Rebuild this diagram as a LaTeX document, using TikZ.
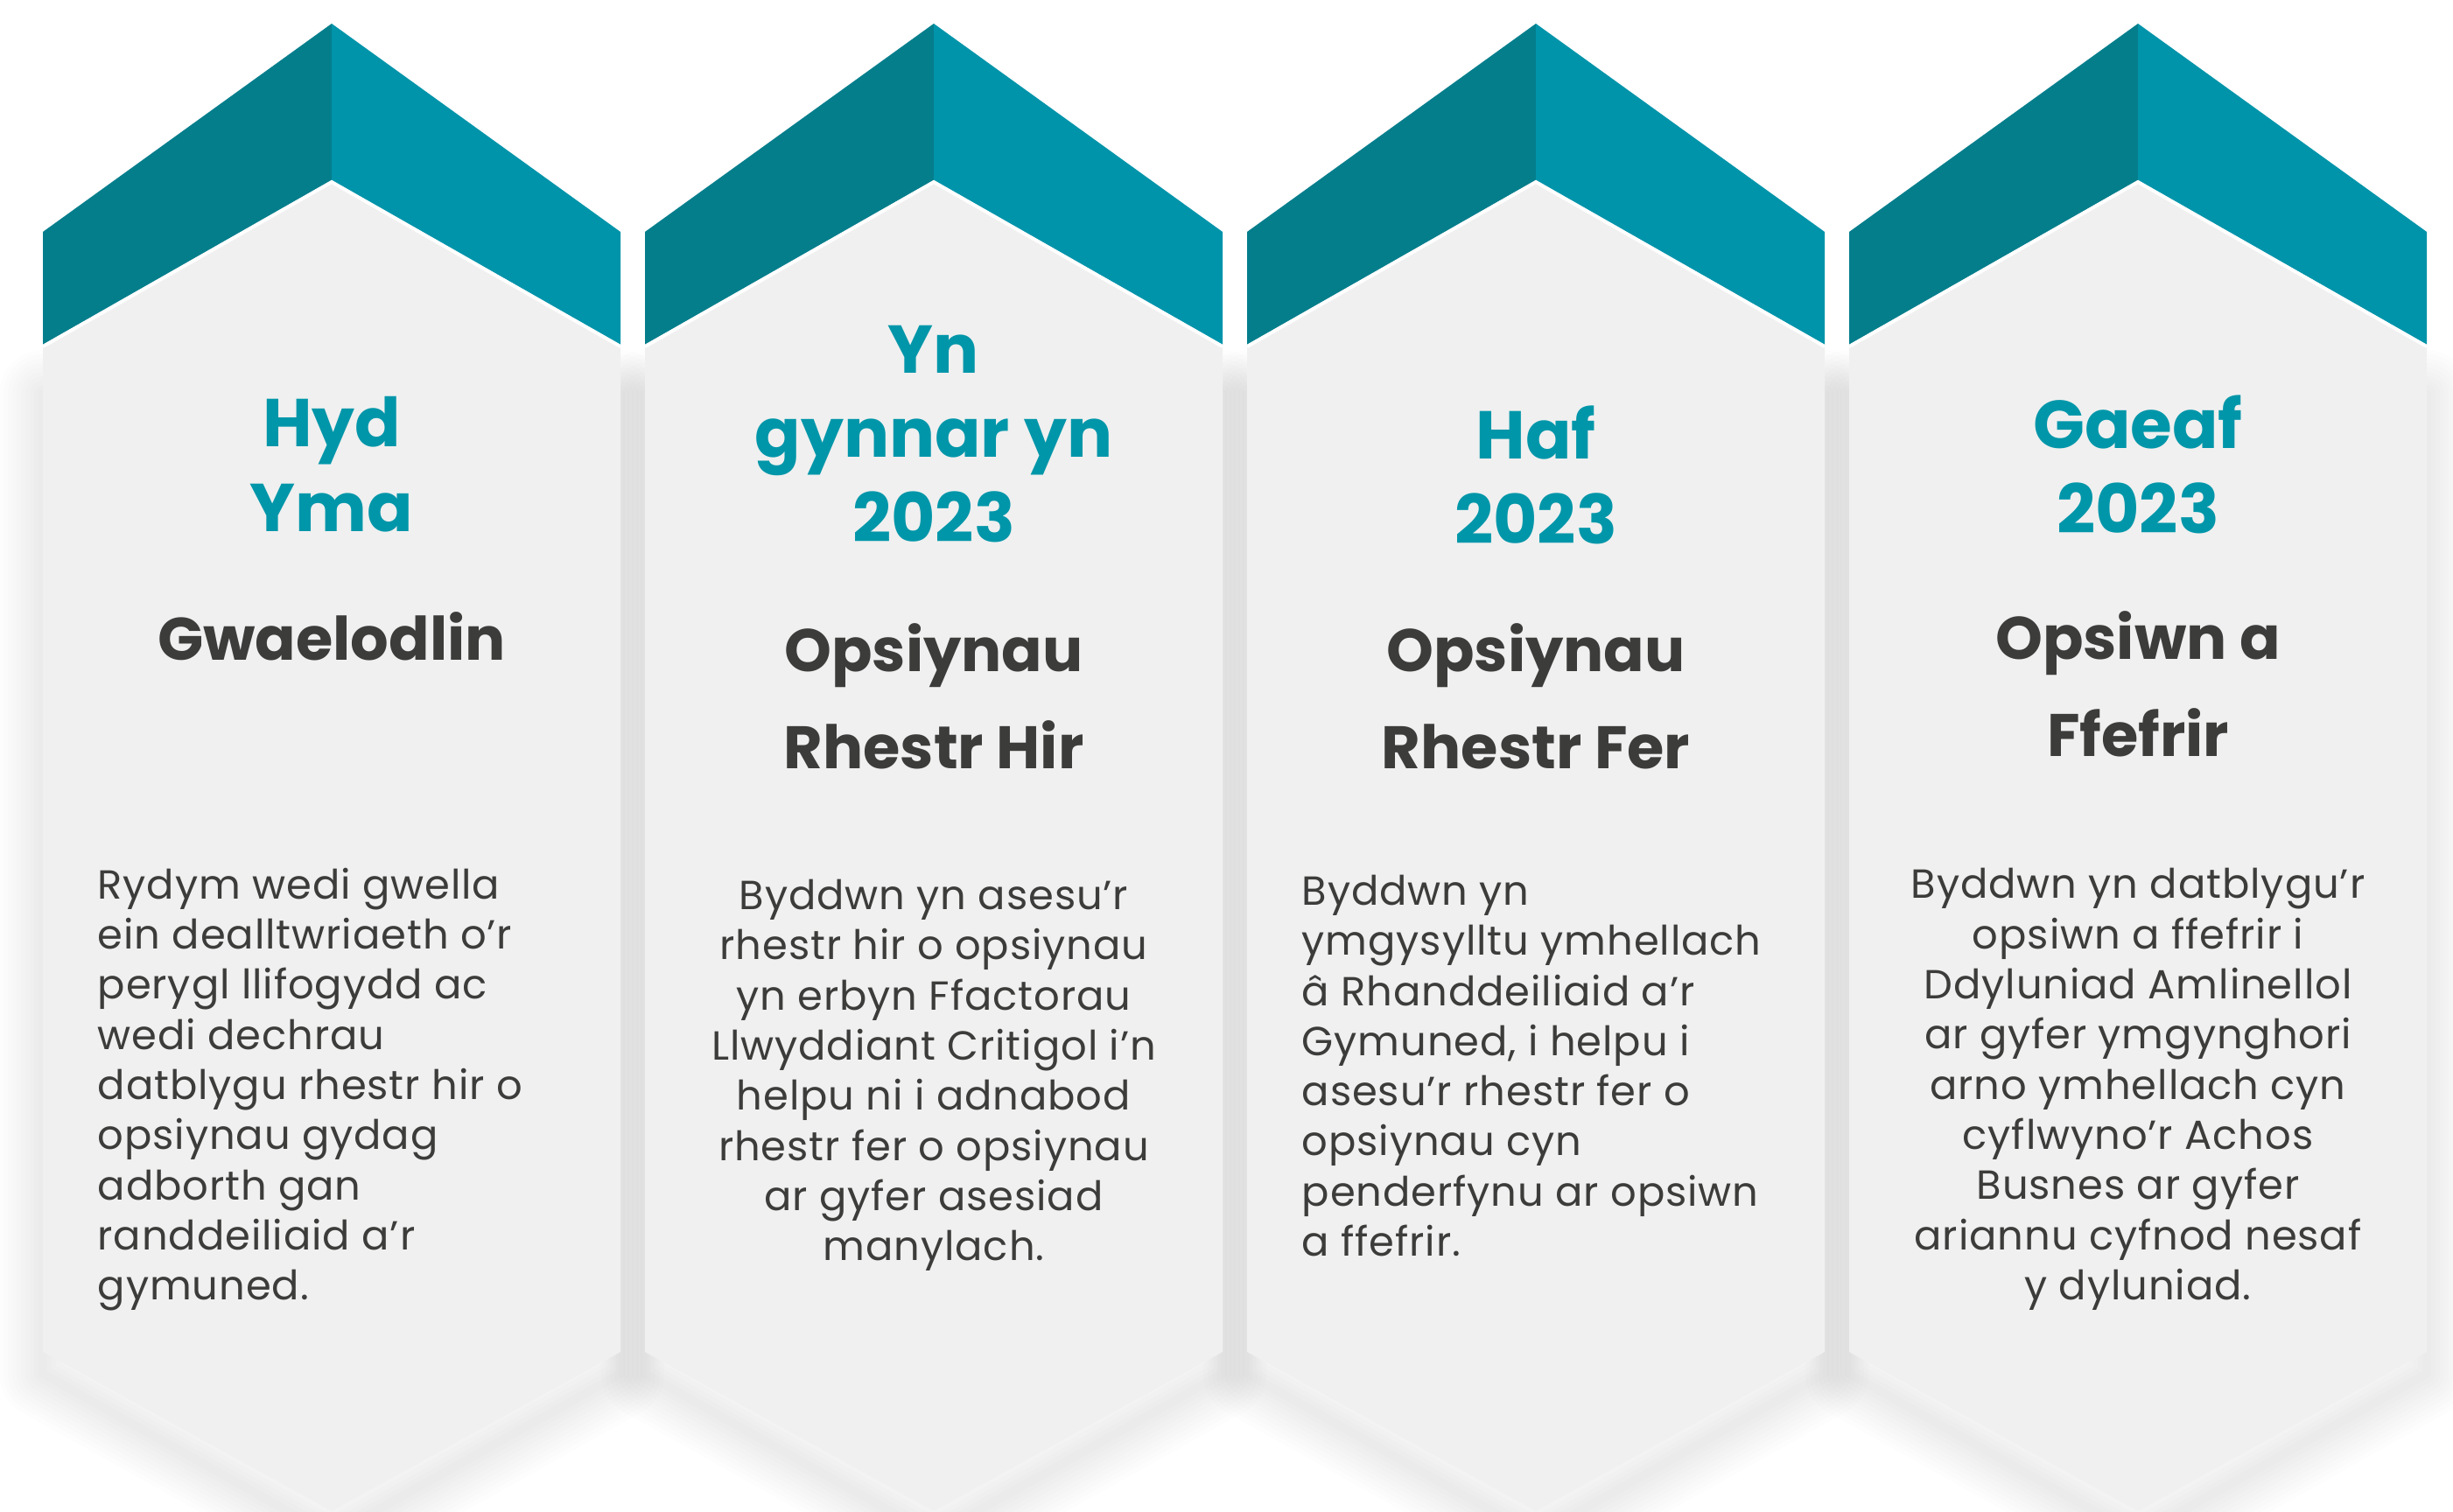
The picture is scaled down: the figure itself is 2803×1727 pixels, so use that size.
\documentclass[tikz,border=0pt]{standalone}
\usepackage{fontspec}
\setmainfont{Poppins}
\newfontfamily\blurbfont{Poppins}[LetterSpace=2]
\definecolor{tealdark}{HTML}{057E8C}
\definecolor{teallight}{HTML}{0094AA}
\definecolor{panel}{HTML}{F0F0F0}
\definecolor{ink}{HTML}{3C3C3B}
\definecolor{heading}{HTML}{0096A9}

\begin{document}
\begin{tikzpicture}[x=0.01cm,y=-0.01cm,
    when/.style={text=heading,font=\bfseries\fontsize{22}{27.5}\selectfont,align=center,inner sep=0},
    stage/.style={text=ink,font=\bfseries\fontsize{19.5}{31.6}\selectfont,align=center,inner sep=0},
    blurb/.style={text=ink,font=\blurbfont\fontsize{13.2}{16.3}\selectfont,inner sep=0}]
    \useasboundingbox (0,0) rectangle (2803,1727);
    % soft shadow under the panels
    \foreach \c in {379,1067,1755,2443}
      \foreach \w in {100,90,...,10}
        \draw[black,opacity=0.009,line width=\w*0.01cm,line join=round,line cap=round]
          (\c-330,450) -- (\c-330,1570) -- (\c,1755) -- (\c+330,1570) -- (\c+330,450);
    % panels and teal caps
    \foreach \c in {379,1067,1755,2443} {
      \fill[panel] (\c-330,394) -- (\c,206) -- (\c+330,394) -- (\c+330,1545) -- (\c,1727) -- (\c-330,1545) -- cycle;
      \fill[tealdark] (\c-330,265) -- (\c,27) -- (\c,206) -- (\c-330,394) -- cycle;
      \fill[teallight] (\c,27) -- (\c+330,265) -- (\c+330,394) -- (\c,206) -- cycle;
      \draw[white,line width=0.04cm] (\c-330,396) -- (\c,208) -- (\c+330,396);
    }
    % column 1
    \node[when] (when1) at (379,531) {Hyd\\Yma};
    \node[stage] (stage1) at (379,727) {Gwaelodlin};
    \node[blurb,anchor=west,align=left] (blurb1) at (111,1245) {Rydym wedi gwella\\ein dealltwriaeth o’r\\perygl llifogydd ac\\wedi dechrau\\datblygu rhestr hir o\\opsiynau gydag\\adborth gan\\randdeiliaid a’r\\gymuned.};
    % column 2
    \node[when] (when2) at (1067,496) {Yn\\gynnar yn\\2023};
    \node[stage] (stage2) at (1067,796) {Opsiynau\\Rhestr Hir};
    \node[blurb,align=center] (blurb2) at (1067,1229) {Byddwn yn asesu’r\\rhestr hir o opsiynau\\yn erbyn Ffactorau\\Llwyddiant Critigol i’n\\helpu ni i adnabod\\rhestr fer o opsiynau\\ar gyfer asesiad\\manylach.};
    % column 3
    \node[when] (when3) at (1755,543) {Haf\\2023};
    \node[stage] (stage3) at (1755,796) {Opsiynau\\Rhestr Fer};
    \node[blurb,anchor=west,align=left] (blurb3) at (1487,1218) {Byddwn yn\\ymgysylltu ymhellach\\â Rhanddeiliaid a’r\\Gymuned, i helpu i\\asesu’r rhestr fer o\\opsiynau cyn\\penderfynu ar opsiwn\\a ffefrir.};
    % column 4
    \node[when] (when4) at (2443,531) {Gaeaf\\2023};
    \node[stage] (stage4) at (2443,782) {Opsiwn a\\Ffefrir};
    \node[blurb,align=center] (blurb4) at (2443,1245) {Byddwn yn datblygu’r\\opsiwn a ffefrir i\\Ddyluniad Amlinellol\\ar gyfer ymgynghori\\arno ymhellach cyn\\cyflwyno’r Achos\\Busnes ar gyfer\\ariannu cyfnod nesaf\\y dyluniad.};
\end{tikzpicture}
\end{document}
